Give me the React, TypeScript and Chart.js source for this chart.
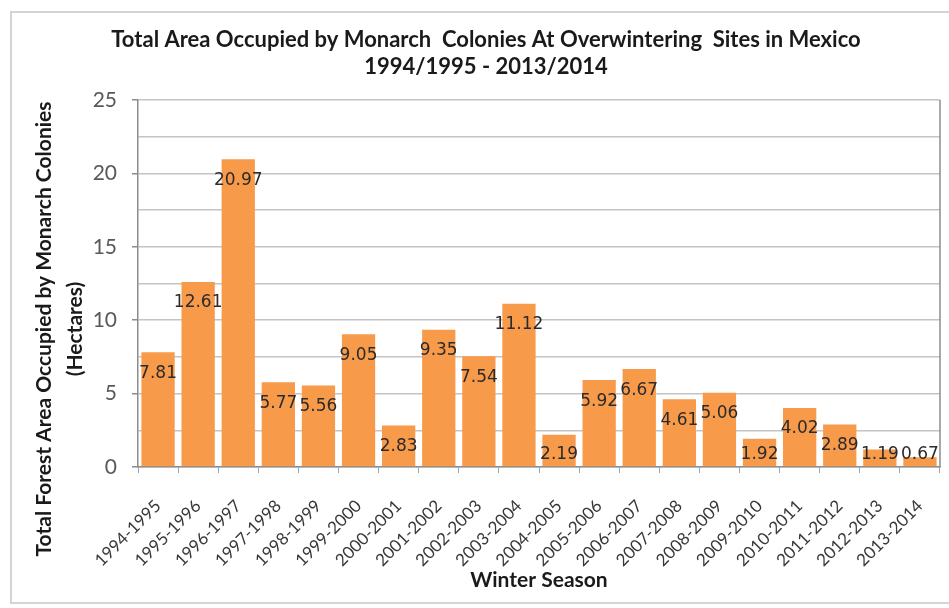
import React, { useEffect, useRef } from 'react';
import { Chart, registerables } from 'chart.js';

Chart.register(...registerables);

const seasons = [
  '1994-1995', '1995-1996', '1996-1997', '1997-1998', '1998-1999',
  '1999-2000', '2000-2001', '2001-2002', '2002-2003', '2003-2004',
  '2004-2005', '2005-2006', '2006-2007', '2007-2008', '2008-2009',
  '2009-2010', '2010-2011', '2011-2012', '2012-2013', '2013-2014',
];
const hectares = [
  7.81, 12.61, 20.97, 5.77, 5.56, 9.05, 2.83, 9.35, 7.54, 11.12,
  2.19, 5.92, 6.67, 4.61, 5.06, 1.92, 4.02, 2.89, 1.19, 0.67,
];
const valueLabels = [
  '7.81', '12.61', '20.97', '5.77', '5.56', '9.05', '2.83', '9.35', '7.54', '11.12',
  '2.19', '5.92', '6.67', '4.61', '5.06', '1.92', '4.02', '2.89', '1.19', '0.67',
];
const titleLines = [
  'Total Area Occupied by Monarch  Colonies At Overwintering  Sites in Mexico',
  '1994/1995 - 2013/2014',
];
const yTitleLines = ['Total Forest Area Occupied by Monarch Colonies', '(Hectares)'];
const xTitle = 'Winter Season';
const yMin = 0;
const yMax = 25;
const yGridStep = 2.5;
const yLabelStep = 5;

const BAR_COLOR = '#F79A4A';
const FONT = 'Lato, "Open Sans", sans-serif';

const framePlugin = {
  id: 'frame',
  beforeDraw(chart: any) {
    const { ctx } = chart;
    ctx.save();
    ctx.fillStyle = '#ffffff';
    ctx.fillRect(0, 0, chart.width, chart.height);
    ctx.strokeStyle = '#d4d4d4';
    ctx.lineWidth = 2;
    ctx.strokeRect(11, 12, 950, 591);
    ctx.restore();
  },
  afterDatasetsDraw(chart: any) {
    const { ctx, chartArea } = chart;
    ctx.save();
    ctx.strokeStyle = '#8c8c8c';
    ctx.lineWidth = 1.5;
    ctx.beginPath();
    ctx.moveTo(chartArea.right, chartArea.top);
    ctx.lineTo(chartArea.right, chartArea.bottom);
    ctx.stroke();
    ctx.restore();
  },
  afterDraw(chart: any) {
    const { ctx } = chart;
    ctx.save();
    ctx.fillStyle = '#1a1a1a';
    ctx.textAlign = 'center';
    ctx.textBaseline = 'middle';
    // main title
    ctx.font = `bold 22px ${FONT}`;
    titleLines.forEach((line, i) => ctx.fillText(line, 486, 40 + i * 27));
    // y axis title
    ctx.font = `bold 21px ${FONT}`;
    ctx.translate(0, 329);
    ctx.rotate(-Math.PI / 2);
    yTitleLines.forEach((line, i) => ctx.fillText(line, 0, 44 + i * 31));
    ctx.restore();
  },
};

const valueLabelPlugin = {
  id: 'valueLabels',
  afterDatasetsDraw(chart: any) {
    const { ctx } = chart;
    const meta = chart.getDatasetMeta(0);
    ctx.save();
    ctx.font = '17px "DejaVu Sans", sans-serif';
    ctx.fillStyle = '#2b2b2b';
    ctx.textAlign = 'center';
    ctx.textBaseline = 'middle';
    meta.data.forEach((bar: any, i: number) => {
      const y = Math.min(bar.y + 21, bar.base - 12);
      ctx.fillText(valueLabels[i], bar.x, y);
    });
    ctx.restore();
  },
};

export default function App() {
  const canvasRef = useRef<HTMLCanvasElement>(null);

  useEffect(() => {
    const canvas = canvasRef.current;
    if (!canvas) return;
    const chart = new Chart(canvas, {
      type: 'bar',
      data: {
        labels: seasons,
        datasets: [
          {
            data: hectares,
            backgroundColor: BAR_COLOR,
            borderWidth: 0,
            barPercentage: 0.83,
            categoryPercentage: 1,
          },
        ],
      },
      options: {
        animation: false,
        responsive: false,
        devicePixelRatio: 1,
        layout: { padding: { left: 10, right: 32, top: 100, bottom: 14 } },
        plugins: {
          legend: { display: false },
          tooltip: { enabled: false },
          title: { display: false },
        },
        scales: {
          x: {
            offset: true,
            grid: {
              display: true,
              drawOnChartArea: false,
              offset: true,
              tickLength: 6,
              tickColor: '#9aa6b8',
            },
            border: { display: true, color: '#8c8c8c', width: 1.5 },
            ticks: {
              minRotation: 45,
              maxRotation: 45,
              autoSkip: false,
              padding: 23,
              color: '#383838',
              font: { family: FONT, size: 17 },
            },
            title: {
              display: true,
              text: xTitle,
              color: '#1a1a1a',
              font: { family: FONT, size: 21, weight: 'bold' },
              padding: { top: 0, bottom: 1 },
            },
            afterFit(scale: any) {
              scale.height = 127;
            },
          },
          y: {
            min: yMin,
            max: yMax,
            grid: {
              color: '#c4c4c4',
              lineWidth: 1.5,
              tickLength: 6,
              tickColor: (c: any) =>
                c.tick && c.tick.value % yLabelStep === 0 ? '#8c8c8c' : 'rgba(0,0,0,0)',
            },
            border: { display: true, color: '#8c8c8c', width: 1.5 },
            ticks: {
              stepSize: yGridStep,
              padding: 15,
              color: '#595959',
              font: { family: FONT, size: 21 },
              callback: (v: any) => (Number(v) % yLabelStep === 0 ? String(v) : ''),
            },
            title: { display: false },
            afterFit(scale: any) {
              scale.width = 128;
            },
          },
        },
      },
      plugins: [framePlugin, valueLabelPlugin],
    } as any);
    return () => chart.destroy();
  }, []);

  return (
    <div
      style={{
        position: 'fixed',
        left: 0,
        top: 0,
        width: 949,
        height: 608,
        overflow: 'hidden',
        background: '#ffffff',
      }}
    >
      <canvas ref={canvasRef} width={972} height={608} style={{ display: 'block' }} />
    </div>
  );
}
